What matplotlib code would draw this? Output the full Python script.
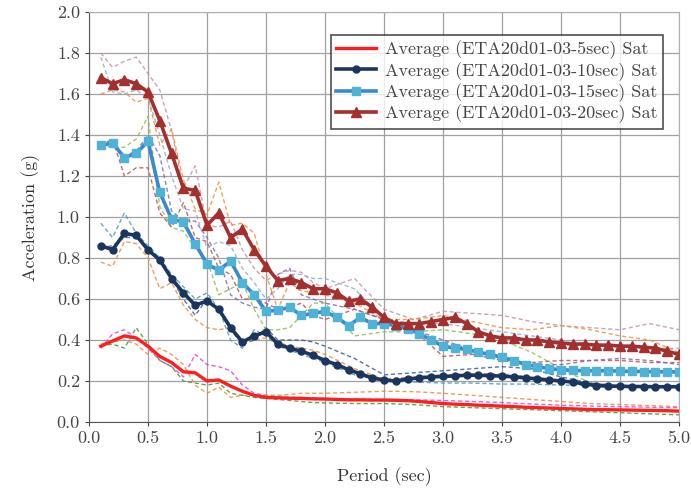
import numpy as np
import matplotlib
matplotlib.use('Agg')
import matplotlib.pyplot as plt

plt.rcParams['font.family'] = ['cmr10', 'DejaVu Serif']
plt.rcParams['axes.formatter.use_mathtext'] = True

# 平均谱（周期 0.1 ~ 5.0 s）
period = np.arange(1, 51) / 10

avg_5 = [0.37, 0.395, 0.42, 0.41, 0.37, 0.32, 0.29, 0.245, 0.24, 0.20,
         0.205, 0.175, 0.15, 0.13, 0.12, 0.118, 0.116, 0.115, 0.113, 0.112,
         0.11, 0.108, 0.108, 0.107, 0.107, 0.106, 0.104, 0.10, 0.095, 0.09,
         0.087, 0.085, 0.082, 0.08, 0.077, 0.075, 0.072, 0.07, 0.068, 0.066,
         0.064, 0.062, 0.06, 0.06, 0.059, 0.058, 0.057, 0.056, 0.055, 0.053]
avg_10 = [0.86, 0.84, 0.92, 0.91, 0.84, 0.79, 0.70, 0.63, 0.57, 0.59,
          0.55, 0.46, 0.39, 0.42, 0.44, 0.38, 0.36, 0.345, 0.325, 0.30,
          0.28, 0.255, 0.235, 0.215, 0.205, 0.20, 0.21, 0.215, 0.22, 0.222,
          0.225, 0.228, 0.228, 0.226, 0.224, 0.22, 0.215, 0.21, 0.205, 0.20,
          0.195, 0.185, 0.178, 0.175, 0.174, 0.173, 0.173, 0.172, 0.172, 0.172]
avg_15 = [1.35, 1.36, 1.29, 1.31, 1.37, 1.12, 0.99, 0.975, 0.87, 0.77,
          0.74, 0.785, 0.68, 0.62, 0.54, 0.545, 0.56, 0.52, 0.53, 0.54,
          0.51, 0.47, 0.51, 0.48, 0.48, 0.47, 0.455, 0.43, 0.40, 0.37,
          0.36, 0.355, 0.34, 0.33, 0.315, 0.30, 0.28, 0.27, 0.26, 0.255,
          0.252, 0.25, 0.25, 0.25, 0.248, 0.247, 0.246, 0.245, 0.245, 0.244]
avg_20 = [1.68, 1.65, 1.67, 1.65, 1.61, 1.47, 1.31, 1.14, 1.13, 0.96,
          1.02, 0.90, 0.94, 0.84, 0.76, 0.69, 0.70, 0.68, 0.65, 0.65,
          0.63, 0.59, 0.60, 0.56, 0.51, 0.48, 0.48, 0.48, 0.49, 0.50,
          0.51, 0.48, 0.44, 0.42, 0.41, 0.41, 0.40, 0.40, 0.39, 0.385,
          0.38, 0.38, 0.375, 0.375, 0.37, 0.37, 0.365, 0.36, 0.345, 0.33]

# 单条记录（虚线）
period_rec = [0.1, 0.2, 0.3, 0.4, 0.5, 0.6, 0.7, 0.8, 0.9, 1.0,
              1.1, 1.2, 1.3, 1.4, 1.5, 1.6, 1.7, 1.8, 1.9, 2.0,
              2.25, 2.5, 2.75, 3.0, 3.25, 3.5, 3.75, 4.0, 4.25, 4.5, 4.75, 5.0]

rec_5_a = [0.36, 0.43, 0.45, 0.41, 0.36, 0.30, 0.27, 0.22, 0.33, 0.28,
           0.27, 0.25, 0.18, 0.14, 0.13, 0.125, 0.12, 0.12, 0.115, 0.115,
           0.112, 0.11, 0.108, 0.105, 0.10, 0.095, 0.088, 0.082, 0.078, 0.075, 0.072, 0.07]
rec_5_b = [0.37, 0.38, 0.36, 0.46, 0.38, 0.30, 0.27, 0.20, 0.19, 0.18,
           0.19, 0.14, 0.13, 0.12, 0.115, 0.11, 0.105, 0.10, 0.095, 0.093,
           0.09, 0.09, 0.085, 0.075, 0.07, 0.065, 0.06, 0.055, 0.05, 0.045, 0.04, 0.035]
rec_5_c = [0.38, 0.39, 0.40, 0.38, 0.33, 0.36, 0.33, 0.28, 0.18, 0.14,
           0.17, 0.12, 0.13, 0.13, 0.13, 0.13, 0.135, 0.14, 0.14, 0.14,
           0.145, 0.15, 0.148, 0.14, 0.13, 0.12, 0.11, 0.10, 0.09, 0.085, 0.08, 0.075]

rec_10_a = [0.97, 0.90, 1.02, 0.92, 0.86, 0.80, 0.72, 0.66, 0.60, 0.63,
            0.55, 0.40, 0.36, 0.45, 0.42, 0.37, 0.35, 0.33, 0.31, 0.29,
            0.23, 0.20, 0.195, 0.19, 0.19, 0.185, 0.185, 0.18, 0.18, 0.178, 0.176, 0.175]
rec_10_b = [0.78, 0.76, 0.88, 0.87, 0.80, 0.65, 0.68, 0.57, 0.50, 0.46,
            0.45, 0.46, 0.40, 0.40, 0.41, 0.39, 0.37, 0.36, 0.35, 0.33,
            0.26, 0.21, 0.22, 0.23, 0.235, 0.235, 0.22, 0.20, 0.19, 0.18, 0.175, 0.17]
rec_10_c = [0.85, 0.86, 0.90, 0.90, 0.85, 0.79, 0.70, 0.60, 0.52, 0.60,
            0.55, 0.45, 0.38, 0.40, 0.46, 0.40, 0.40, 0.40, 0.39, 0.37,
            0.31, 0.23, 0.24, 0.25, 0.26, 0.27, 0.26, 0.22, 0.19, 0.175, 0.17, 0.17]

rec_15_a = [1.35, 1.34, 1.34, 1.38, 1.49, 1.05, 0.95, 0.93, 0.85, 0.79,
            0.62, 0.65, 0.68, 0.55, 0.45, 0.45, 0.46, 0.52, 0.58, 0.58,
            0.42, 0.44, 0.44, 0.45, 0.43, 0.40, 0.34, 0.26, 0.19, 0.17, 0.17, 0.17]
rec_15_b = [1.35, 1.38, 1.20, 1.24, 1.24, 1.02, 0.95, 1.07, 0.90, 0.88,
            0.75, 0.72, 0.60, 0.60, 0.58, 0.55, 0.56, 0.58, 0.52, 0.50,
            0.55, 0.50, 0.45, 0.32, 0.33, 0.30, 0.29, 0.30, 0.30, 0.30, 0.29, 0.29]
rec_15_c = [1.36, 1.36, 1.30, 1.32, 1.40, 1.30, 1.03, 0.98, 0.98, 0.90,
            0.80, 0.62, 0.58, 0.56, 0.55, 0.72, 0.75, 0.62, 0.60, 0.58,
            0.55, 0.50, 0.45, 0.40, 0.35, 0.30, 0.28, 0.28, 0.30, 0.31, 0.30, 0.28]

rec_20_a = [1.80, 1.73, 1.76, 1.78, 1.70, 1.62, 1.42, 1.14, 1.25, 0.96,
            0.95, 0.98, 0.84, 0.75, 0.69, 0.72, 0.74, 0.73, 0.68, 0.65,
            0.70, 0.55, 0.50, 0.54, 0.53, 0.52, 0.49, 0.47, 0.46, 0.45, 0.48, 0.45]
rec_20_b = [1.60, 1.62, 1.61, 1.56, 1.58, 1.35, 1.43, 1.18, 1.04, 1.01,
            1.17, 0.96, 0.97, 0.92, 0.72, 0.55, 0.68, 0.64, 0.63, 0.62,
            0.58, 0.50, 0.50, 0.52, 0.49, 0.46, 0.45, 0.47, 0.45, 0.42, 0.40, 0.34]
rec_20_c = [1.78, 1.61, 1.60, 1.62, 1.58, 1.40, 1.20, 1.04, 1.03, 0.85,
            0.88, 0.86, 0.75, 0.68, 0.60, 0.65, 0.72, 0.72, 0.70, 0.70,
            0.65, 0.50, 0.48, 0.48, 0.46, 0.44, 0.42, 0.40, 0.38, 0.37, 0.36, 0.36]

labels = ['Average (ETA20d01-03-5sec) Sat', 'Average (ETA20d01-03-10sec) Sat',
          'Average (ETA20d01-03-15sec) Sat', 'Average (ETA20d01-03-20sec) Sat']

fig = plt.figure(figsize=(6.91, 4.88), dpi=100)
ax = fig.add_axes([89/691, 1-422/488, 590/691, 410/488])

# 虚线：各条记录
records = [(rec_5_a, '#e040e0'), (rec_5_b, '#3a9a3a'), (rec_5_c, '#f08a3c'),
           (rec_10_a, '#4a9ab8'), (rec_10_b, '#f08a3c'), (rec_10_c, '#3a5a98'),
           (rec_15_a, '#8cbf4a'), (rec_15_b, '#c0504d'), (rec_15_c, '#7a6ab8'),
           (rec_20_a, '#c890a8'), (rec_20_b, '#f0903c'), (rec_20_c, '#9aaac8')]
for vals, c in records:
    ax.plot(period_rec, vals, color=c, lw=1.0, ls=(0, (3, 2)), alpha=0.85, zorder=2)

# 平均曲线
ax.plot(period, avg_5, color='#ff1e1e', lw=2.4, label=labels[0], zorder=5)
ax.plot(period, avg_10, color='#1b365e', lw=2.6, marker='o', ms=5,
        label=labels[1], zorder=5)
ax.plot(period, avg_15, color='#3a88d0', lw=2.6, marker='s', ms=6,
        mfc='#4fb3d8', mec='#4fb3d8', label=labels[2], zorder=5)
ax.plot(period, avg_20, color='#a3302e', lw=2.6, marker='^', ms=7,
        label=labels[3], zorder=6)

ax.set_xlim(0, 5)
ax.set_ylim(0, 2)
ax.set_xticks(np.arange(0, 5.01, 0.5))
ax.set_yticks(np.arange(0, 2.01, 0.2))
ax.xaxis.set_major_formatter(plt.FormatStrFormatter('%.1f'))
ax.yaxis.set_major_formatter(plt.FormatStrFormatter('%.1f'))
ax.tick_params(labelsize=13, colors='#444444', length=3, width=0.8)
ax.grid(True, color='#a0a0a0', lw=0.9)
for s in ax.spines.values():
    s.set_color('#b0b0b0')
ax.spines['left'].set_color('#555555')
ax.spines['bottom'].set_color('#555555')

ax.set_xlabel('Period (sec)', fontsize=13, color='#333333', labelpad=15)
ax.set_ylabel('Acceleration (g)', fontsize=13, color='#333333', labelpad=12)

leg = ax.legend(loc='upper right', bbox_to_anchor=(0.988, 0.966), fontsize=13,
                frameon=True, fancybox=False, edgecolor='#222222',
                handlelength=2.2, handletextpad=0.5, labelspacing=0.15,
                borderpad=0.3)
leg.get_frame().set_linewidth(1.2)
for t in leg.get_texts():
    t.set_color('#444444')

fig.savefig('out.png', dpi=100)
